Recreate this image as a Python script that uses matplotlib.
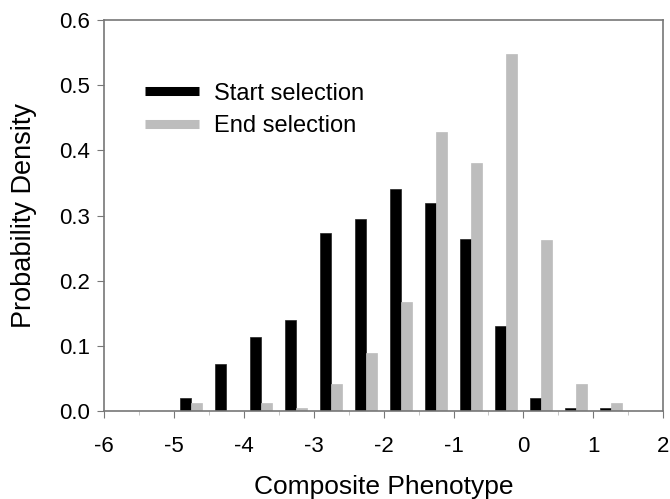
import numpy as np
import matplotlib.pyplot as plt
from matplotlib.lines import Line2D

plt.rcParams['font.family'] = ['Liberation Sans', 'DejaVu Sans']
plt.rcParams['axes.unicode_minus'] = False

# bin centres (width 0.5) and densities
bins = [-4.75, -4.25, -3.75, -3.25, -2.75, -2.25, -1.75, -1.25, -0.75, -0.25, 0.25, 0.75, 1.25]
start_sel = [0.020, 0.073, 0.114, 0.140, 0.274, 0.295, 0.341, 0.320, 0.264, 0.130, 0.020, 0.005, 0.005]
end_sel = [0.012, 0.0, 0.012, 0.005, 0.042, 0.089, 0.167, 0.428, 0.381, 0.548, 0.262, 0.042, 0.012]

fig = plt.figure(figsize=(6.7, 4.99), dpi=100)
ax = fig.add_axes([0.155, 0.176, 0.835, 0.784])

x = np.array(bins)
w = 0.155
ax.bar(x - 0.08, start_sel, width=w, color='black', edgecolor='#222222', linewidth=0.5)
ax.bar(x + 0.08, end_sel, width=w, color='#bdbdbd', edgecolor='#bdbdbd', linewidth=0.5)

ax.set_xlim(-6, 2)
ax.set_ylim(0, 0.6)
ax.set_xticks(range(-6, 3))
ax.set_yticks(np.arange(0, 0.61, 0.1))
ax.set_yticklabels(['%.1f' % v for v in np.arange(0, 0.61, 0.1)])
ax.set_xticks(np.arange(-5.5, 2, 1), minor=True)

for s in ax.spines.values():
    s.set_color('#777777')
    s.set_linewidth(1.2)
ax.tick_params(which='major', direction='out', length=5, color='#777777', labelsize=16, pad=5)
ax.tick_params(axis='x', which='major', pad=13)
ax.tick_params(which='minor', direction='out', length=3, color='#bbbbbb')

ax.set_xlabel('Composite Phenotype', fontsize=19, labelpad=13)
ax.set_ylabel('Probability Density', fontsize=19.5, labelpad=16)

handles = [Line2D([], [], color='black', lw=6.5, solid_capstyle='butt'),
           Line2D([], [], color='#bdbdbd', lw=6.5, solid_capstyle='butt')]
ax.legend(handles, ['Start selection', 'End selection'], loc='upper left',
          bbox_to_anchor=(0.073, 0.84), frameon=False, fontsize=17,
          borderpad=0, borderaxespad=0,
          handlelength=2.3, handletextpad=0.65, labelspacing=0.45)

fig.savefig('out.png', dpi=100)
